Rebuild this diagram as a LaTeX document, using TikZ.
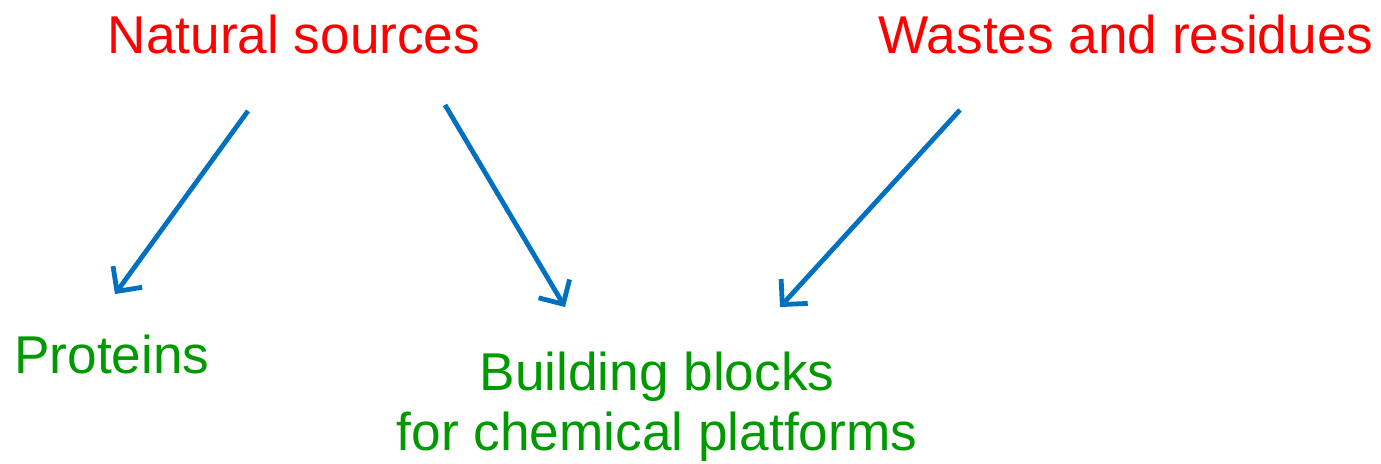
\documentclass[tikz,border=0pt]{standalone}
\usepackage{fontspec}
\setmainfont{Liberation Sans}
\usetikzlibrary{arrows.meta}
\definecolor{srcred}{RGB}{255,0,0}
\definecolor{prodgreen}{RGB}{0,153,0}
\definecolor{flowblue}{RGB}{0,112,192}

\begin{document}
\begin{tikzpicture}[x=0.5pt, y=-0.5pt, src/.style={text=srcred, inner sep=0pt, anchor=base, font=\fontsize{26.6}{30}\selectfont}, prod/.style={text=prodgreen, inner sep=0pt, anchor=base, align=center, font=\fontsize{26.6}{30}\selectfont}, arr/.style={-{Straight Barb[length=9pt, width=18pt]}, line width=2.4pt, flowblue}]
\useasboundingbox (0,0) rectangle (1381,463);
\node[src] (natural) at (294,53) {Natural sources}; \node[src] (wastes) at (1126,53) {Wastes and residues};
\node[prod] (proteins) at (112,373) {Proteins}; \node[prod] (blocks) at (657,450) {Building blocks\\for chemical platforms};
\draw[arr] ([shift={(-46,57)}]natural.south) -- ([shift={(3,-40)}]proteins.north); \draw[arr] ([shift={(151,51)}]natural.south) -- ([shift={(-92,-44)}]blocks.north); \draw[arr] ([shift={(-166,56)}]wastes.south) -- ([shift={(123,-44)}]blocks.north);
\end{tikzpicture}
\end{document}
